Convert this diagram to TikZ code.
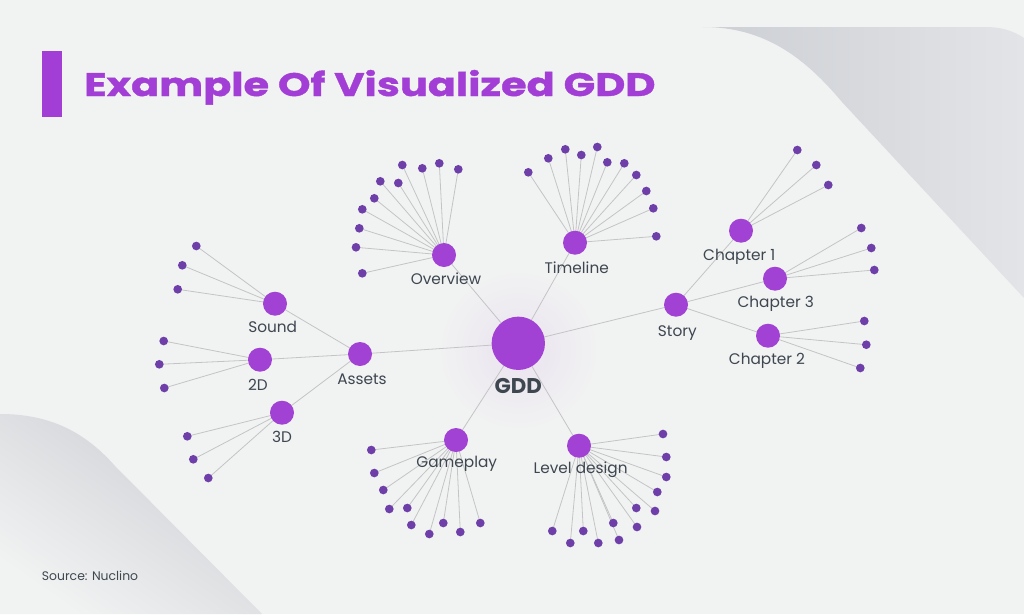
\documentclass[tikz,border=0pt]{standalone}
\usepackage{fontspec}
\setmainfont{Poppins}
\newfontfamily\titlefont{Poppins}[BoldFeatures={FakeBold=1.2,FakeStretch=1.275}]
\definecolor{bgc}{HTML}{F1F2F2}
\definecolor{hubc}{HTML}{A142D4}
\definecolor{leafc}{HTML}{6E3FA9}
\definecolor{edgec}{HTML}{C4C4C6}
\definecolor{txtc}{HTML}{3E4650}
\definecolor{titlec}{HTML}{A23ED5}
\definecolor{shA}{HTML}{CCCFD4}
\definecolor{shB}{HTML}{E3E4E7}
\pgfdeclarelayer{back}
\pgfdeclarelayer{edges}
\pgfsetlayers{back,edges,main}
\begin{document}
\begin{tikzpicture}[x=0.75pt,y=-0.75pt,
  hub/.style={circle,fill=hubc,inner sep=0pt,minimum size=18pt},
  bighub/.style={circle,fill=hubc,inner sep=0pt,minimum size=40pt},
  leaf/.style={circle,fill=leafc,inner sep=0pt,minimum size=6.5pt},
  edge/.style={draw=edgec,line width=0.6pt},
  lbl/.style={text=txtc,font=\fontsize{11.5}{12}\selectfont,inner sep=0pt,anchor=base},
  gddlbl/.style={text=txtc,font=\fontsize{16}{17}\selectfont\bfseries,inner sep=0pt,anchor=base}]
\useasboundingbox (0,0) rectangle (1024,614);
\begin{pgfonlayer}{back}
\fill[bgc] (0,0) rectangle (1024,614);
\shade[left color=shA,right color=shB] (703,27) .. controls (765,27) and (805,58) .. (842,102) -- (1024,298) -- (1024,38) .. controls (1012,30) and (1000,27) .. (985,27) -- cycle;
\shade[top color=shA,bottom color=bgc,shading angle=-35] (0,414) .. controls (50,414) and (85,432) .. (115,466) -- (262,614) -- (0,614) -- cycle;
\shade[inner color=hubc!9!bgc,outer color=bgc] (518.3,350) circle (80);
\end{pgfonlayer}
% title
\fill[titlec] (42,51) rectangle (62,117);
\node[text=titlec,font=\titlefont\fontsize{24.4}{26}\selectfont\bfseries,inner sep=0pt,anchor=base west] (title) at (84,96) {Example Of Visualized GDD};
\node[text=txtc,font=\fontsize{9.3}{10}\selectfont,inner sep=0pt,anchor=base west] (src) at (41.7,580.5) {Source: Nuclino};
% hubs
\node[bighub] (gdd) at (518.3,343.3) {};
\node[hub] (ov) at (444,255) {};
\node[hub] (tl) at (575,242.7) {};
\node[hub] (st) at (676,304.7) {};
\node[hub] (c1) at (741,230.7) {};
\node[hub] (c3) at (775,278.7) {};
\node[hub] (c2) at (768,335.7) {};
\node[hub] (as) at (360,354) {};
\node[hub] (so) at (275,303.7) {};
\node[hub] (td) at (260,359.7) {};
\node[hub] (thd) at (282,412.7) {};
\node[hub] (gp) at (456,440) {};
\node[hub] (ld) at (579,445.7) {};
% labels
\node[gddlbl] (gddL) at (518.3,393.3) {GDD};
\node[lbl] (ovL) at (446,284) {Overview};
\node[lbl] (tlL) at (576.7,273.3) {Timeline};
\node[lbl] (stL) at (677.3,336.7) {Story};
\node[lbl] (c1L) at (739.3,260) {Chapter 1};
\node[lbl] (c3L) at (775.7,307.7) {Chapter 3};
\node[lbl] (c2L) at (767,364.3) {Chapter 2};
\node[lbl] (asL) at (362,384.3) {Assets};
\node[lbl] (soL) at (272.7,332.3) {Sound};
\node[lbl] (tdL) at (258,390.3) {2D};
\node[lbl] (thdL) at (282,442.3) {3D};
\node[lbl] (gpL) at (456.7,467.3) {Gameplay};
\node[lbl] (ldL) at (580.7,473.3) {Level design};
% main connectors
\begin{pgfonlayer}{edges}
\foreach \h in {ov,tl,st,as,gp,ld} \draw[edge] (gdd.center) -- (\h.center);
\foreach \h in {c1,c2,c3} \draw[edge] (st.center) -- (\h.center);
\foreach \h in {so,td,thd} \draw[edge] (as.center) -- (\h.center);
\end{pgfonlayer}
% leaves
\foreach \h/\pts in {
 ov/{(402.3,165),(422.3,168.3),(439.3,163.3),(458.3,169.3),(380.3,181.3),(398.3,183),(374.3,198.3),(362.3,209.3),(359.3,228.3),(356,247.3),(362.3,273.3)},
 tl/{(528.3,172.3),(548.3,158.3),(565.3,149.3),(581.3,155),(597.3,147),(607.3,162.3),(624.3,163.3),(636.3,175),(646.3,191),(653.3,208.3),(656.3,236.3)},
 c1/{(797.3,150),(816.3,165),(828.3,185)},
 c3/{(861.3,228),(871.3,248),(874.3,270)},
 c2/{(864.3,321),(866.3,344.7),(860.3,368)},
 so/{(196.3,246),(182.3,265.3),(177.7,289.3)},
 td/{(163.7,341),(159.3,364.3),(164.3,388)},
 thd/{(187.3,436.3),(193.3,459.3),(208.3,478)},
 gp/{(371.3,450),(374.3,473),(383.3,490),(389.3,509),(407.3,508),(411.3,525),(429.3,534),(443.3,523),(460.3,532),(480.3,523)},
 ld/{(663,434),(666.3,457),(666.3,477),(657.3,492),(655,511),(636.3,508),(637,527),(613.3,523),(619,540),(598.3,543),(583.3,531),(570.3,543),(552.3,531)}} {
  \foreach \p [count=\i] in \pts {
    \node[leaf] (\h-\i) at \p {};
    \begin{pgfonlayer}{edges}\draw[edge] (\h.center) -- (\h-\i.center);\end{pgfonlayer}
  }
}
\end{tikzpicture}
\end{document}
